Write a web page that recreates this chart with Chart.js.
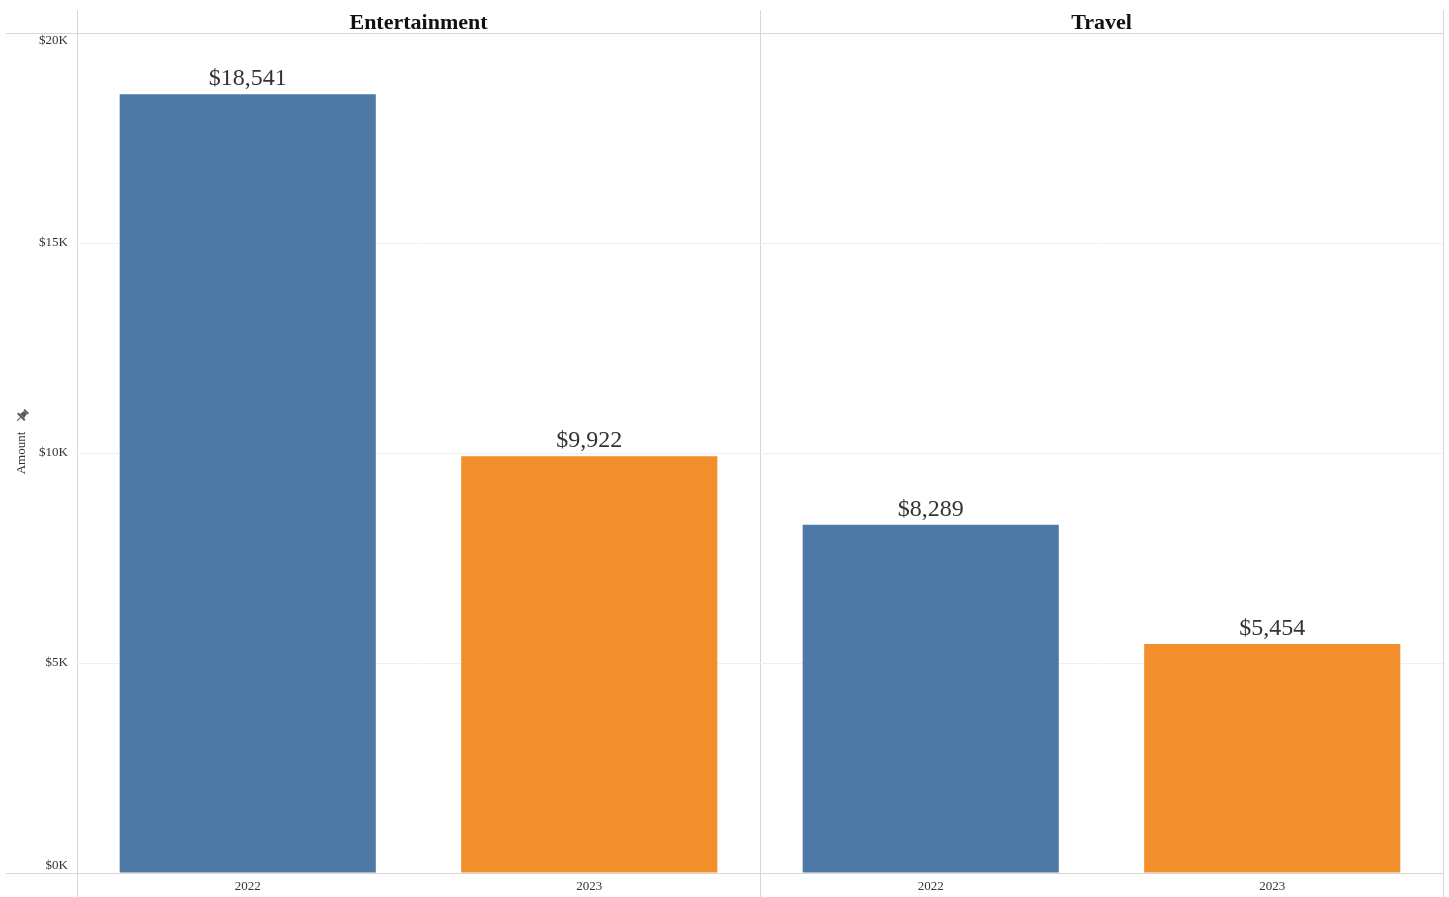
<!DOCTYPE html>
<html>
<head>
<meta charset="utf-8">
<script src="https://cdn.jsdelivr.net/npm/chart.js@4/dist/chart.umd.min.js"></script>
<style>
  html, body { margin: 0; padding: 0; background: #ffffff; }
  #wrap { width: 1449px; height: 897px; }
</style>
</head>
<body>
<div id="wrap"><canvas id="c" width="1449" height="897"></canvas></div>
<script>
// ---- data ----
const panels = ['Entertainment', 'Travel'];
const years = ['2022', '2023'];
const entertainment = [18541, 9922];
const travel = [8289, 5454];
const yearColors = ['#4e79a7', '#f28e2b'];
const yTicks = [0, 5000, 10000, 15000, 20000];

// ---- derived for the library ----
const xLabels = panels.flatMap(() => years);
const values = [...entertainment, ...travel];
const barColors = panels.flatMap(() => yearColors);

const FRAME = '#d6d6d6';
const FAINT = '#f0f0f0';
const TEXT = '#333333';
const SERIF = '"Liberation Serif", "Times New Roman", serif';

const dataLabels = {
  id: 'dataLabels',
  afterDatasetsDraw(chart) {
    const ctx = chart.ctx;
    const meta = chart.getDatasetMeta(0);
    ctx.save();
    ctx.font = '24px ' + SERIF;
    ctx.fillStyle = TEXT;
    ctx.textAlign = 'center';
    ctx.textBaseline = 'alphabetic';
    meta.data.forEach((el, i) => {
      const v = chart.data.datasets[0].data[i];
      ctx.fillText('$' + v.toLocaleString('en-US'), el.x, el.y - 9);
    });
    ctx.restore();
  }
};

const pinIcon = {
  id: 'pinIcon',
  afterDraw(chart) {
    const ctx = chart.ctx;
    ctx.save();
    ctx.translate(22, 416);
    ctx.rotate(Math.PI / 4);
    ctx.fillStyle = '#555b63';
    ctx.strokeStyle = '#555b63';
    ctx.fillRect(-3, -7, 6, 2);
    ctx.beginPath();
    ctx.moveTo(-2, -5); ctx.lineTo(2, -5); ctx.lineTo(3, 0); ctx.lineTo(-3, 0); ctx.closePath();
    ctx.fill();
    ctx.fillRect(-5, 0, 10, 2);
    ctx.lineWidth = 1;
    ctx.beginPath(); ctx.moveTo(0, 2); ctx.lineTo(0, 7); ctx.stroke();
    ctx.restore();
  }
};

new Chart(document.getElementById('c'), {
  type: 'bar',
  data: {
    labels: xLabels,
    datasets: [{
      data: values,
      backgroundColor: barColors,
      borderWidth: 0,
      categoryPercentage: 0.75,
      barPercentage: 1.0
    }]
  },
  options: {
    responsive: false,
    animation: false,
    layout: { padding: { left: 0, right: 6, top: 10, bottom: 0 } },
    plugins: { legend: { display: false }, tooltip: { enabled: false } },
    scales: {
      x: {
        type: 'category',
        position: 'bottom',
        offset: true,
        border: { display: false },
        grid: {
          offset: true,
          drawOnChartArea: true,
          drawTicks: true,
          tickLength: 24,
          lineWidth: 1,
          color: (c) => (c.index === undefined || c.index % 2 === 0) ? FRAME : 'rgba(0,0,0,0)',
          tickColor: (c) => (c.index === undefined || c.index % 2 === 0) ? FRAME : 'rgba(0,0,0,0)'
        },
        ticks: {
          color: TEXT,
          font: { family: SERIF, size: 13 },
          padding: -18,
          maxRotation: 0,
          autoSkip: false
        },
        afterFit: (s) => { s.height = 24; }
      },
      x2: {
        type: 'category',
        position: 'top',
        labels: panels,
        offset: true,
        border: { display: false },
        grid: {
          offset: true,
          drawOnChartArea: false,
          drawTicks: true,
          tickLength: 23,
          color: FRAME,
          tickColor: FRAME
        },
        ticks: {
          color: '#111111',
          font: { family: SERIF, size: 22, weight: 'bold' },
          padding: -27,
          maxRotation: 0,
          autoSkip: false
        },
        afterFit: (s) => { s.height = 23; }
      },
      y: {
        type: 'linear',
        position: 'left',
        min: 0,
        max: 20000,
        border: { display: false },
        afterBuildTicks: (s) => { s.ticks = yTicks.map(v => ({ value: v })); },
        grid: {
          drawTicks: true,
          tickLength: 71,
          lineWidth: 1,
          color: (c) => (c.tick && (c.tick.value === 0 || c.tick.value === 20000)) ? FRAME : FAINT,
          tickColor: (c) => (c.tick && (c.tick.value === 0 || c.tick.value === 20000)) ? FRAME : 'rgba(0,0,0,0)'
        },
        ticks: {
          color: TEXT,
          font: { family: SERIF, size: 13 },
          padding: -62,
          callback: (v) => {
            const t = '$' + (v / 1000) + 'K';
            if (v === 0) return [t, ''];
            if (v === 20000) return ['', t];
            return t;
          }
        },
        title: {
          display: true,
          text: 'Amount',
          color: TEXT,
          font: { family: SERIF, size: 13 },
          padding: { top: 14, bottom: 0 }
        },
        afterFit: (s) => { s.width = 77; }
      }
    }
  },
  plugins: [dataLabels, pinIcon]
});
</script>
</body>
</html>
